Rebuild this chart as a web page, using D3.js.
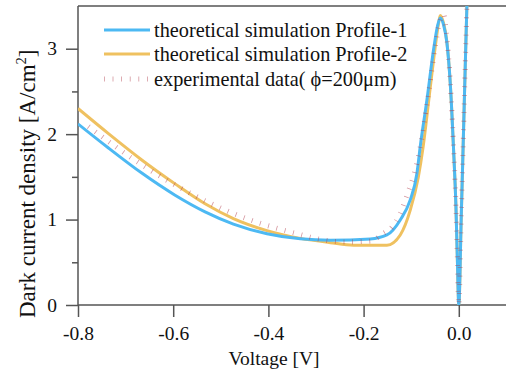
<!DOCTYPE html>
<html>
<head>
<meta charset="utf-8">
<script src="https://cdn.jsdelivr.net/npm/d3@7"></script>
<style>
  body { margin: 0; background: #fff; }
  svg { display: block; font-family: "Liberation Serif", "Times New Roman", serif; }
</style>
</head>
<body>
<div id="chart"></div>
<script>
// Chart size and plot margins
const width = 506;
const height = 373;
const margin = {left: 78, right: 0, top: 6, bottom: 68};

// Profile-1 simulation (blue)
const voltage1 = [-0.8, -0.736, -0.666, -0.596, -0.533, -0.4735, -0.403, -0.333, -0.27, -0.186,
  -0.151, -0.123, -0.102, -0.088, -0.081, -0.067, -0.053, -0.045, -0.039, -0.032,
  -0.025, -0.018, -0.011, -0.006, -0.003, 0, 0.005, 0.01, 0.015, 0.02];
const current1 = [2.12, 1.838, 1.544, 1.285, 1.09, 0.947, 0.834, 0.775, 0.759, 0.773,
  0.82, 0.996, 1.23, 1.54, 1.856, 2.40, 2.99, 3.26, 3.36, 3.28,
  3.07, 2.60, 1.82, 1.15, 0.53, 0, 1.0, 2.05, 3.1, 4.1];

// Profile-2 simulation (orange)
const voltage2 = [-0.8, -0.736, -0.666, -0.596, -0.533, -0.4735, -0.403, -0.333, -0.27, -0.221,
  -0.151, -0.123, -0.102, -0.085, -0.075, -0.062, -0.05, -0.043, -0.039, -0.032,
  -0.025, -0.018, -0.011, -0.006, -0.003, 0, 0.005, 0.01, 0.015, 0.02];
const current2 = [2.30, 2.006, 1.698, 1.418, 1.185, 1.012, 0.871, 0.78, 0.73, 0.70,
  0.70, 0.82, 1.11, 1.50, 1.85, 2.45, 3.0, 3.28, 3.39, 3.30,
  3.08, 2.6, 1.82, 1.15, 0.53, 0, 1.0, 2.05, 3.1, 4.1];

// Experimental data
const voltage3 = [-0.778, -0.736, -0.694, -0.652, -0.589, -0.529, -0.477, -0.428, -0.379, -0.344,
  -0.295, -0.239, -0.186, -0.158, -0.141, -0.123, -0.106, -0.095, -0.08, -0.065,
  -0.05, -0.04, -0.032, -0.025, -0.018, -0.011, -0.006, -0.003, 0, 0.005,
  0.01, 0.015, 0.02];
const current3 = [2.09, 1.914, 1.746, 1.591, 1.383, 1.209, 1.079, 0.976, 0.893, 0.841,
  0.772, 0.738, 0.748, 0.84, 0.906, 1.075, 1.33, 1.51, 1.88, 2.42,
  3.0, 3.32, 3.40, 3.12, 2.62, 1.84, 1.17, 0.55, 0, 1.0,
  2.05, 3.1, 4.1];

const xTicks = [-0.8, -0.6, -0.4, -0.2, 0.0];
const yTicks = [0, 1, 2, 3];
const yMinorTicks = [0.5, 1.5, 2.5];
const legendLabels = ["theoretical simulation Profile-1", "theoretical simulation Profile-2",
  "experimental data( \u03d5=200\u03bcm)"];

const blue = "#4db9f3";
const orange = "#efc160";
const expColor = "#b3404f";
const axisColor = "#555";

const svg = d3.select("#chart")
  .append("svg")
  .attr("width", width)
  .attr("height", height);

const xScale = d3.scaleLinear()
  .domain([-0.8, 0.1])
  .range([margin.left, 506.4]);

const yScale = d3.scaleLinear()
  .domain([0, 3.5])
  .range([height - margin.bottom, margin.top]);

svg.append("clipPath")
  .attr("id", "plot-clip")
  .append("rect")
  .attr("x", margin.left)
  .attr("y", margin.top)
  .attr("width", width - margin.left)
  .attr("height", height - margin.bottom - margin.top);

/* Axes */

const yAxis = svg.append("g")
  .attr("transform", `translate(${margin.left},0)`)
  .call(d3.axisLeft(yScale).tickValues(yTicks).tickSize(12).tickPadding(9).tickFormat(d3.format("d")));

const yMinor = svg.append("g")
  .attr("transform", `translate(${margin.left},0)`)
  .call(d3.axisLeft(yScale).tickValues(yMinorTicks).tickSize(6).tickFormat(""));

const xAxis = svg.append("g")
  .attr("transform", `translate(0,${height - margin.bottom})`)
  .call(d3.axisBottom(xScale).tickValues(xTicks).tickSize(12).tickPadding(9).tickFormat(d3.format(".1f")));

[yAxis, yMinor, xAxis].forEach(g => {
  g.select(".domain").remove();
  g.selectAll("line").attr("stroke", axisColor).attr("stroke-width", 1.5);
  g.selectAll("text")
    .attr("fill", "#111")
    .attr("font-size", "19.5px")
    .attr("font-family", "'Liberation Serif', 'Times New Roman', serif");
});
xAxis.selectAll("text").text(d => d3.format(".1f")(d).replace("\u2212", "-"));

// Frame: left axis, top and bottom lines
svg.append("line")
  .attr("x1", margin.left).attr("x2", margin.left)
  .attr("y1", margin.top).attr("y2", height - margin.bottom)
  .attr("stroke", axisColor).attr("stroke-width", 1.5);
svg.append("line")
  .attr("x1", margin.left).attr("x2", width)
  .attr("y1", margin.top).attr("y2", margin.top)
  .attr("stroke", axisColor).attr("stroke-width", 1.5);
svg.append("line")
  .attr("x1", margin.left).attr("x2", width)
  .attr("y1", height - margin.bottom).attr("y2", height - margin.bottom)
  .attr("stroke", axisColor).attr("stroke-width", 1.5);

// Axis titles
svg.append("text")
  .attr("x", 274)
  .attr("y", 365)
  .attr("text-anchor", "middle")
  .attr("font-size", "19.5px")
  .attr("fill", "#111")
  .text("Voltage [V]");

const yTitle = svg.append("text")
  .attr("transform", "translate(35,318) rotate(-90)")
  .attr("text-anchor", "start")
  .attr("font-size", "23px")
  .attr("fill", "#111");
yTitle.append("tspan").text("Dark current density [A/cm");
yTitle.append("tspan").attr("font-size", "14.5px").attr("dy", -9).text("2");
yTitle.append("tspan").attr("dy", 9).text("]");

/* Curves */

const line = d3.line()
  .x(d => xScale(d[0]))
  .y(d => yScale(d[1]))
  .curve(d3.curveMonotoneX);

const plot = svg.append("g").attr("clip-path", "url(#plot-clip)");

plot.append("path")
  .datum(d3.zip(voltage2, current2))
  .attr("d", line)
  .attr("fill", "none")
  .attr("stroke", orange)
  .attr("stroke-width", 3);

plot.append("path")
  .datum(d3.zip(voltage1, current1))
  .attr("d", line)
  .attr("fill", "none")
  .attr("stroke", blue)
  .attr("stroke-width", 3);

plot.append("path")
  .datum(d3.zip(voltage3, current3))
  .attr("d", line)
  .attr("fill", "none")
  .attr("stroke", expColor)
  .attr("stroke-opacity", 0.55)
  .attr("stroke-width", 5)
  .attr("stroke-dasharray", "0.8 7.8");

/* Legend */

const legendRows = [30, 54, 79];
const legendStyles = [
  {stroke: blue, width: 3, dash: null, opacity: 1},
  {stroke: orange, width: 3, dash: null, opacity: 1},
  {stroke: expColor, width: 5, dash: "0.8 7.8", opacity: 0.55}
];

legendLabels.forEach((label, i) => {
  const y = legendRows[i];
  svg.append("line")
    .attr("x1", 104).attr("x2", 150)
    .attr("y1", y).attr("y2", y)
    .attr("stroke", legendStyles[i].stroke)
    .attr("stroke-width", legendStyles[i].width)
    .attr("stroke-opacity", legendStyles[i].opacity)
    .attr("stroke-dasharray", legendStyles[i].dash);
  svg.append("text")
    .attr("x", 154)
    .attr("y", y + 6.5)
    .attr("font-size", "20.3px")
    .attr("fill", "#111")
    .text(label);
});
</script>
</body>
</html>
